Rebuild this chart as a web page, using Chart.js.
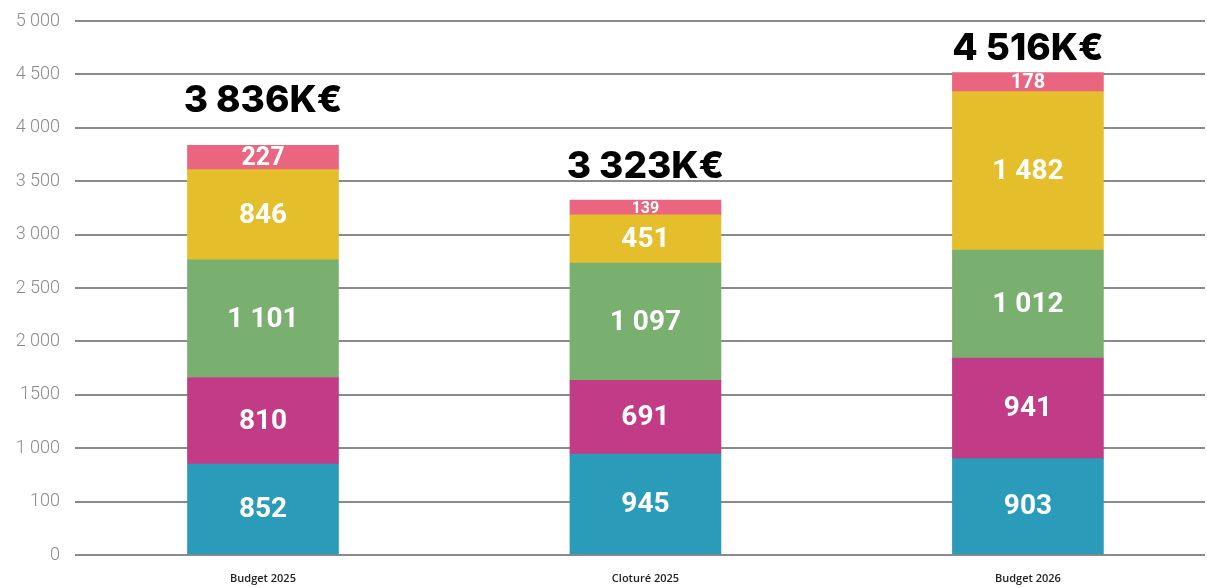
<!DOCTYPE html>
<html>
<head>
<meta charset="utf-8">
<script src="https://cdn.jsdelivr.net/npm/chart.js@4.4.1/dist/chart.umd.min.js"></script>
<style>
  html, body { margin: 0; padding: 0; background: #ffffff; overflow: hidden; }
  #wrap { width: 1207px; height: 588px; position: relative; }
</style>
</head>
<body>
<div id="wrap"><canvas id="c"></canvas></div>
<script>
// ---- data ----
const categories = ['Budget 2025', 'Cloturé 2025', 'Budget 2026'];
const seriesBlue    = [852, 945, 903];
const seriesMagenta = [810, 691, 941];
const seriesGreen   = [1101, 1097, 1012];
const seriesYellow  = [846, 451, 1482];
const seriesPink    = [227, 139, 178];
const yTickLabels = ['0', '100', '1 000', '1500', '2 000', '2 500', '3 000', '3 500', '4 000', '4 500', '5 000'];

// ---- styling ----
const colors = ['#2B9BBA', '#C23B86', '#79AF6F', '#E5BE2C', '#EA657F'];
const totalOffsets = [44, 33, 24];

function fmt(v) { return String(v).replace(/\B(?=(\d{3})+(?!\d))/g, ' '); }
function toPoints(arr) { return arr.map((v, i) => ({ x: i, y: v })); }

const allSeries = [seriesBlue, seriesMagenta, seriesGreen, seriesYellow, seriesPink];
const datasets = allSeries.map((s, k) => ({
  data: toPoints(s),
  backgroundColor: colors[k],
  borderWidth: 0,
  barThickness: 151
}));

const labelPlugin = {
  id: 'labels',
  afterDatasetsDraw(chart) {
    const ctx = chart.ctx;
    ctx.save();
    ctx.textAlign = 'center';
    ctx.textBaseline = 'middle';
    chart.data.datasets.forEach((ds, di) => {
      const meta = chart.getDatasetMeta(di);
      meta.data.forEach((el, i) => {
        const h = Math.abs(el.base - el.y);
        const size = Math.min(28, Math.round(h + 1));
        ctx.fillStyle = '#ffffff';
        ctx.font = '700 ' + size + 'px Roboto';
        ctx.fillText(fmt(allSeries[di][i]), el.x, (el.y + el.base) / 2 + 1);
      });
    });
    const lastMeta = chart.getDatasetMeta(chart.data.datasets.length - 1);
    categories.forEach((c, i) => {
      const total = allSeries.reduce((a, s) => a + s[i], 0);
      const el = lastMeta.data[i];
      ctx.fillStyle = '#000000';
      ctx.font = '800 37px Inter';
      ctx.fillText(fmt(total) + 'K€', el.x, el.y - totalOffsets[i]);
    });
    ctx.restore();
  }
};

new Chart(document.getElementById('c'), {
  type: 'bar',
  data: { datasets },
  options: {
    responsive: true,
    maintainAspectRatio: false,
    animation: false,
    layout: { padding: { top: 21, right: 2, left: 0, bottom: 0 } },
    plugins: { legend: { display: false }, tooltip: { enabled: false } },
    scales: {
      x: {
        type: 'linear',
        stacked: true,
        offset: false,
        min: -0.4915,
        max: 2.463,
        grid: { display: false, drawTicks: false, offset: false },
        border: { display: false },
        ticks: {
          stepSize: 1,
          includeBounds: false,
          autoSkip: false,
          maxRotation: 0,
          padding: 17,
          color: '#222222',
          font: { family: 'Open Sans', size: 11, weight: '600' },
          callback: (v) => (Number.isInteger(v) && categories[v] !== undefined) ? categories[v] : ''
        },
        afterFit: (s) => { s.height = 33; }
      },
      y: {
        stacked: true,
        min: 0,
        max: 5000,
        grid: { color: '#8a8a8a', lineWidth: 2, drawTicks: false },
        border: { display: false },
        ticks: {
          stepSize: 500,
          padding: 15,
          color: '#8a8a8a',
          font: { family: 'Roboto', size: 18, weight: '300' },
          callback: (v, idx) => yTickLabels[idx]
        },
        afterFit: (s) => { s.width = 75; s.paddingTop = 0; }
      }
    }
  },
  plugins: [labelPlugin]
});
</script>
</body>
</html>
